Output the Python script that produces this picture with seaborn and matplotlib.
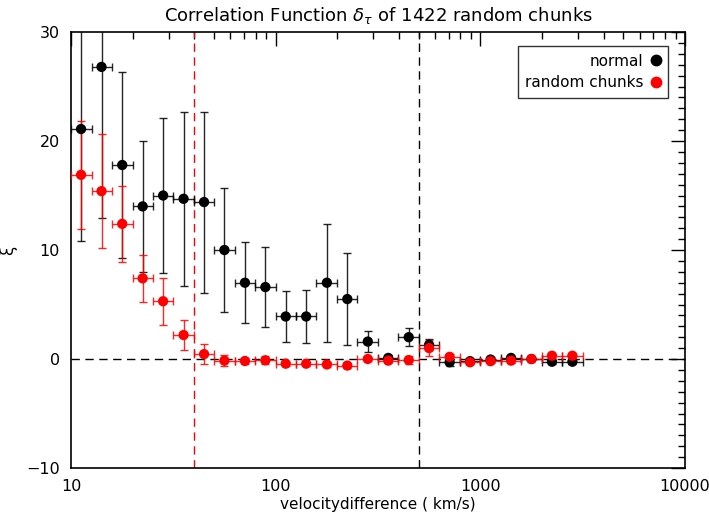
import numpy as np
import pandas as pd
import matplotlib
matplotlib.use("Agg")
import matplotlib.pyplot as plt
import seaborn as sns
from matplotlib.lines import Line2D
from matplotlib.ticker import MultipleLocator, LogLocator, NullFormatter, FixedLocator, FixedFormatter

# bin centres (km/s) and bin edges
velocity = [11.2, 14.1, 17.8, 22.4, 28.2, 35.5, 44.7, 56.2, 70.8, 89.1,
            112, 141, 178, 224, 282, 355, 447, 562, 708, 891,
            1122, 1413, 1778, 2239, 2818]
bin_lo = [10.0, 12.6, 15.8, 20.0, 25.1, 31.6, 39.8, 50.1, 63.1, 79.4,
          100, 126, 158, 200, 251, 316, 398, 501, 631, 794,
          1000, 1259, 1585, 1995, 2512]
bin_hi = [12.6, 15.8, 20.0, 25.1, 31.6, 39.8, 50.1, 63.1, 79.4, 100,
          126, 158, 200, 251, 316, 398, 501, 631, 794, 1000,
          1259, 1585, 1995, 2512, 3162]

xi_normal = [21.1, 26.8, 17.8, 14.0, 15.0, 14.7, 14.4, 10.0, 7.0, 6.6,
             3.9, 3.9, 7.0, 5.5, 1.6, 0.1, 2.0, 1.3, -0.3, -0.2,
             -0.05, 0.1, 0.0, -0.25, -0.25]
err_normal = [10.3, 13.9, 8.5, 6.0, 7.1, 8.0, 8.3, 5.7, 3.7, 3.7,
              2.3, 2.4, 5.4, 4.2, 1.0, 0.3, 0.8, 0.5, 0.3, 0.2,
              0.2, 0.2, 0.2, 0.2, 0.2]

xi_random = [16.9, 15.4, 12.4, 7.4, 5.3, 2.2, 0.45, -0.15, -0.18, -0.12,
             -0.43, -0.43, -0.5, -0.6, 0.0, -0.15, -0.1, 1.0, 0.2, -0.3,
             -0.2, -0.15, 0.0, 0.3, 0.3]
err_random = [4.95, 5.2, 3.5, 2.15, 2.15, 1.35, 0.95, 0.5, 0.3, 0.35,
              0.2, 0.2, 0.2, 0.2, 0.2, 0.2, 0.4, 0.75, 0.3, 0.2,
              0.2, 0.2, 0.2, 0.2, 0.2]

series_names = ["normal", "random chunks"]
series_colors = ["black", "red"]

x = np.array(velocity)
xerr = np.vstack([x - np.array(bin_lo), np.array(bin_hi) - x])

df = pd.DataFrame({
    "v": velocity * 2,
    "xi": xi_normal + xi_random,
    "series": [series_names[0]] * len(velocity) + [series_names[1]] * len(velocity),
})

sns.set_style("white")
plt.rcParams["font.family"] = ["DejaVu Sans"]
plt.rcParams["text.color"] = "black"
plt.rcParams["axes.labelcolor"] = "black"

fig = plt.figure(figsize=(7.09, 5.14), dpi=100)
ax = fig.add_axes([0.1001, 0.0895, 0.8660, 0.8482])

# reference lines
ax.axhline(0, color="black", ls=(0, (6, 4)), lw=1.0, zorder=1)
ax.axvline(40, color="red", ls=(0, (6, 4)), lw=1.0, zorder=1)
ax.axvline(500, color="black", ls=(0, (6, 4)), lw=1.0, zorder=1)

for yv, ev, col, z in [(xi_normal, err_normal, "black", 2), (xi_random, err_random, "red", 4)]:
    ax.errorbar(x, yv, yerr=ev, xerr=xerr, fmt="none", ecolor=col,
                elinewidth=1.0, capsize=2.8, capthick=1.0, zorder=z, alpha=0.85)

sns.scatterplot(data=df, x="v", y="xi", hue="series", palette=series_colors,
                hue_order=series_names, s=55, edgecolor="none", legend=False,
                ax=ax, zorder=5)

ax.set_xscale("log")
ax.set_xlim(10, 10000)
ax.set_ylim(-10, 30)

ax.xaxis.set_major_locator(FixedLocator([10, 100, 1000, 10000]))
ax.xaxis.set_major_formatter(FixedFormatter(["10", "100", "1000", "10000"]))
ax.xaxis.set_minor_locator(LogLocator(base=10, subs=np.arange(2, 10)))
ax.xaxis.set_minor_formatter(NullFormatter())
ax.yaxis.set_major_locator(MultipleLocator(10))
ax.yaxis.set_minor_locator(MultipleLocator(1))

ax.tick_params(which="both", direction="in", top=True, right=True,
               colors="black", labelsize=11.5, width=1.0)
ax.tick_params(which="major", length=10, pad=8)
ax.tick_params(which="minor", length=5)
for s in ax.spines.values():
    s.set_color("black")
    s.set_linewidth(1.2)

ax.set_xlabel("velocitydifference ( km/s)", fontsize=11, labelpad=2)
ax.set_ylabel("ξ", fontsize=12, rotation=90)
ax.yaxis.set_label_coords(-0.088, 0.5)
ax.set_title(r"Correlation Function $\delta_\tau$ of 1422 random chunks", fontsize=13, pad=8)

handles = [Line2D([], [], ls="none", marker="o", color=c, markersize=7.5) for c in series_colors]
leg = ax.legend(handles, series_names, loc="upper right", bbox_to_anchor=(0.985, 0.985),
                markerfirst=False, fontsize=11, frameon=True, fancybox=False,
                handlelength=0.6, handletextpad=0.5, borderpad=0.5, labelspacing=0.4)
leg.get_frame().set_edgecolor("black")
leg.get_frame().set_linewidth(1.0)
for t in leg.get_texts():
    t.set_ha("right")
leg._legend_box.align = "right"

fig.savefig("out.png", dpi=100)
